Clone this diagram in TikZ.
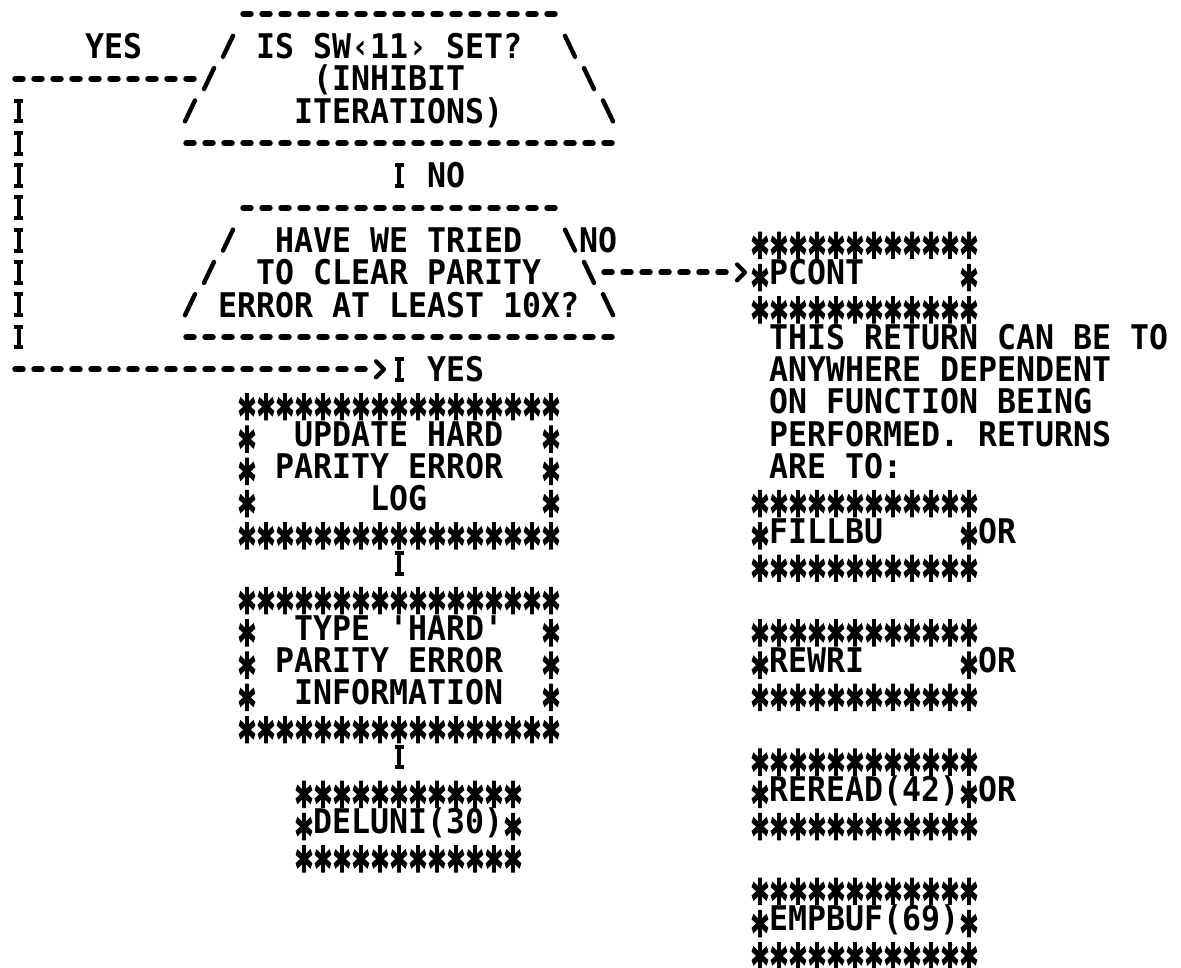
\documentclass[tikz,border=0pt]{standalone}
\usepackage{fontspec}
\usepackage{graphicx}
\usetikzlibrary{arrows.meta}
\newfontfamily\plotfont{DejaVu Sans Mono}[FakeStretch=0.9282, Ligatures=TeXOff]
\newfontfamily\starfont{DejaVu Sans Mono Bold}[FakeBold=4]
\newcommand\artfont{\plotfont\bfseries\fontsize{34pt}{32.3pt}\selectfont\lineskiplimit=-100pt\relax}
\newlength\chw \setlength\chw{19pt}
% one printer row, one printer column
\newcommand\rs{\rule[-3.76pt]{0pt}{32.3pt}}
\newcommand\gap[1]{\hspace*{#1\chw}}
\newcommand\st{\makebox[\chw]{\smash{\raisebox{-20.5pt}{\scalebox{0.92}[1.6]{\starfont *}}}}}
\newcommand\stars[1]{\foreach\k in {1,...,#1}{\st}}

\begin{document}
\begin{tikzpicture}[
    x=19pt, y=-32.3pt,
    art/.style={inner sep=0pt, outer sep=0pt, anchor=north west, align=left, font=\artfont},
    dashrow/.style={line width=6pt, line cap=round, dash pattern=on 7.5pt off 11.5pt},
    istem/.style={line width=4.6pt, dash pattern=on 24.8pt off 7.5pt,
      postaction={draw, line width=9pt, dash pattern=on 4pt off 16.8pt on 4pt off 7.5pt}},
    flow/.style={istem, shorten <=3.75pt, shorten >=3.75pt},
    slash/.style={line width=4.4pt, line cap=round},
    chev/.style={line width=4.2pt, line cap=round, line join=round},
  ]
  \useasboundingbox (-1,-0.4334) rectangle (61.158,29.505);

  % ========= DECISION: SW(11) =========
  \node[art] (sw11) at (8.5,-0.5) {\rs\gap{23}\\
    \rs\gap{4}IS SW‹11› SET?\\
    \rs\gap{7}(INHIBIT\\
    \rs\gap{6}ITERATIONS)\\
    \rs};
  \draw[dashrow] ([xshift=-3.75pt]12,0) -- ([xshift=3.75pt]28,0);
  \draw[dashrow] ([xshift=-3.75pt]9,4) -- ([xshift=3.75pt]31,4);
  \foreach \r/\a/\b in {1/11/29, 2/10/30, 3/9/31} {
    \draw[slash] ([xshift=-5pt,yshift=-10.5pt]\a,\r) -- ([xshift=5pt,yshift=10.5pt]\a,\r);
    \draw[slash] ([xshift=-5pt,yshift=10.5pt]\b,\r) -- ([xshift=5pt,yshift=-10.5pt]\b,\r);
  }
  \node[art] (yesA) at (3.5,0.5) {\rs YES};

  % ========= DECISION: PARITY RETRIES =========
  \node[art] (parity) at (8.5,5.5) {\rs\gap{23}\\
    \rs\gap{5}HAVE WE TRIED\\
    \rs\gap{4}TO CLEAR PARITY\\
    \rs\gap{2}ERROR AT LEAST 10X?\\
    \rs};
  \draw[dashrow] ([xshift=-3.75pt]12,6) -- ([xshift=3.75pt]28,6);
  \draw[dashrow] ([xshift=-3.75pt]9,10) -- ([xshift=3.75pt]31,10);
  \foreach \r/\a/\b in {7/11/29, 8/10/30, 9/9/31} {
    \draw[slash] ([xshift=-5pt,yshift=-10.5pt]\a,\r) -- ([xshift=5pt,yshift=10.5pt]\a,\r);
    \draw[slash] ([xshift=-5pt,yshift=10.5pt]\b,\r) -- ([xshift=5pt,yshift=-10.5pt]\b,\r);
  }
  \node[art] (noA) at (21.5,4.5) {\rs NO};
  \node[art] (noB) at (29.5,6.5) {\rs NO};
  \node[art] (yesB) at (21.5,10.5) {\rs YES};

  % ========= MAIN COLUMN =========
  \node[art] (update) at (11.5,11.5) {\rs\stars{17}\\
    \rs\st\gap{2}UPDATE HARD\gap{2}\st\\
    \rs\st\gap{1}PARITY ERROR\gap{2}\st\\
    \rs\st\gap{6}LOG\gap{6}\st\\
    \rs\stars{17}};
  \node[art] (typeinfo) at (11.5,17.5) {\rs\stars{17}\\
    \rs\st\gap{2}TYPE 'HARD'\gap{2}\st\\
    \rs\st\gap{1}PARITY ERROR\gap{2}\st\\
    \rs\st\gap{2}INFORMATION\gap{2}\st\\
    \rs\stars{17}};
  \node[art] (deluni) at (14.5,23.5) {\rs\stars{12}\\
    \rs\st DELUNI(30)\st\\
    \rs\stars{12}};

  % ========= RETURN COLUMN =========
  \node[art] (pcont) at (38.5,6.5) {\rs\stars{12}\\
    \rs\st PCONT\gap{5}\st\\
    \rs\stars{12}};
  \node[art] (note) at (39.5,9.5) {\rs THIS RETURN CAN BE TO\\
    \rs ANYWHERE DEPENDENT\\
    \rs ON FUNCTION BEING\\
    \rs PERFORMED. RETURNS\\
    \rs ARE TO:};
  \node[art] (fillbu) at (38.5,14.5) {\rs\stars{12}\\
    \rs\st FILLBU\gap{4}\st OR\\
    \rs\stars{12}};
  \node[art] (rewri) at (38.5,18.5) {\rs\stars{12}\\
    \rs\st REWRI\gap{5}\st OR\\
    \rs\stars{12}};
  \node[art] (reread) at (38.5,22.5) {\rs\stars{12}\\
    \rs\st REREAD(42)\st OR\\
    \rs\stars{12}};
  \node[art] (empbuf) at (38.5,26.5) {\rs\stars{12}\\
    \rs\st EMPBUF(69)\st\\
    \rs\stars{12}};

  % ========= CONNECTORS =========
  \draw[flow] (sw11.south) -- (parity.north);
  \draw[flow] (parity.south) -- (update.north);
  \draw[flow] (update.south) -- (typeinfo.north);
  \draw[flow] (typeinfo.south) -- (typeinfo.south |- deluni.north);

  % YES loop round the left side
  \coordinate (loopA) at (0,2);
  \coordinate (loopB) at (0,11);
  \coordinate (join) at (20,11);
  \draw[dashrow] ([xshift=13.25pt]sw11.west) -- ([xshift=-3.75pt]loopA);
  \draw[istem] ([yshift=-19.9pt]loopA) -- ([yshift=19.9pt]loopB);
  \draw[dashrow] ([xshift=-3.75pt]loopB) -- ([xshift=-34.25pt]join);
  \draw[chev] ([xshift=-23pt,yshift=8pt]join) -- ([xshift=-15pt]join) -- ([xshift=-23pt,yshift=-8pt]join);

  % NO branch to PCONT
  \draw[dashrow] ([xshift=-13.25pt]parity.east) -- ([xshift=-24.75pt]pcont.west);
  \draw[chev] ([xshift=-13.5pt,yshift=8pt]pcont.west) -- ([xshift=-5.5pt]pcont.west) -- ([xshift=-13.5pt,yshift=-8pt]pcont.west);
\end{tikzpicture}
\end{document}
